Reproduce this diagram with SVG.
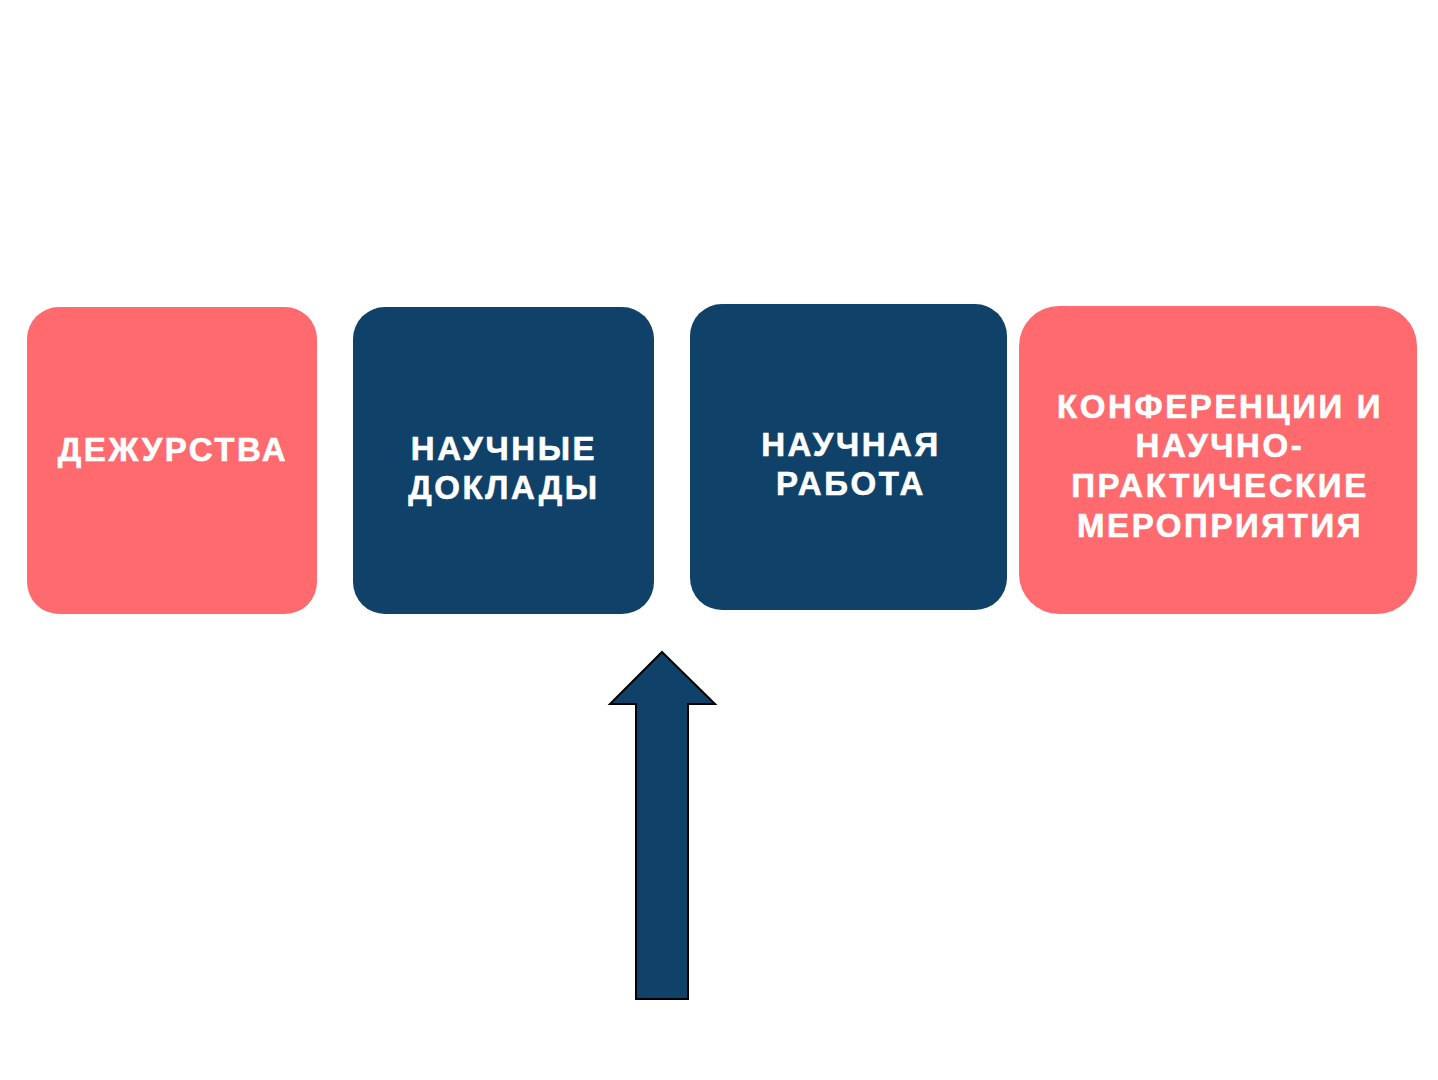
<svg xmlns="http://www.w3.org/2000/svg" width="1438" height="1080" viewBox="0 0 1438 1080">
<style>
.pink{fill:#FE6A6E}
.blue{fill:#0F4169}
.lbl{font-family:"Liberation Sans",Arial,sans-serif;font-weight:bold;font-size:33px;fill:#FFFFFF;stroke:#FFFFFF;stroke-width:0.6;text-anchor:middle;letter-spacing:2.6px}
</style>
<rect width="1438" height="1080" fill="#FFFFFF"/>
<g id="node-duty">
<rect class="pink" x="27" y="307" width="290" height="307" rx="32"/>
<text class="lbl" x="173" y="461">ДЕЖУРСТВА</text>
</g>
<g id="node-reports">
<rect class="blue" x="353" y="307" width="301" height="307" rx="32"/>
<text class="lbl" x="504" y="460">НАУЧНЫЕ</text>
<text class="lbl" x="504" y="499">ДОКЛАДЫ</text>
</g>
<g id="node-research">
<rect class="blue" x="690" y="304" width="317" height="306" rx="32"/>
<text class="lbl" x="851" y="456">НАУЧНАЯ</text>
<text class="lbl" x="851" y="495">РАБОТА</text>
</g>
<g id="node-conf">
<rect class="pink" x="1019" y="306" width="398" height="308" rx="40"/>
<text class="lbl" x="1220" y="418">КОНФЕРЕНЦИИ И</text>
<text class="lbl" x="1220" y="457">НАУЧНО-</text>
<text class="lbl" x="1220" y="497">ПРАКТИЧЕСКИЕ</text>
<text class="lbl" x="1220" y="537">МЕРОПРИЯТИЯ</text>
</g>
<g id="connectors">
<polygon points="662,652 715,704 688,704 688,999 636,999 636,704 610,704" fill="#0F4169" stroke="#000000" stroke-width="2"/>
</g>
</svg>
